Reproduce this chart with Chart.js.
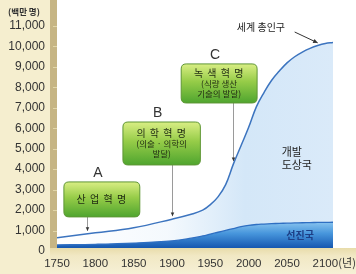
<!DOCTYPE html>
<html><head><meta charset="utf-8">
<script src="https://cdn.jsdelivr.net/npm/chart.js@4"></script>
<style>html,body{margin:0;padding:0;background:#fff}#wrap{width:356px;height:274px}</style>
</head><body><div id="wrap"><canvas id="c" width="356" height="274"></canvas></div>
<script>
// ---- data ----
const years        = [1750,1800,1850,1900,1925,1940,1950,1960,1970,1980,1990,2000,2010,2020,2030,2040,2050,2060,2070,2080,2090,2100,2110];
const worldPop     = [500, 740, 990, 1410,1650,1850,2120,2500,3100,4100,5000,5900,6900,7600,8200,8650,9050,9350,9580,9760,9900,10000,10050];
const developedPop = [150, 180, 240, 350, 480, 590, 680, 770, 860, 950, 1040,1110,1150,1170,1190,1205,1215,1225,1235,1245,1250,1255,1260];
const xTickValues  = [1750,1800,1850,1900,1950,2000,2050,2100];
const yTickValues  = [0,1000,2000,3000,4000,5000,6000,7000,8000,9000,10000,11000];
const yUnitLabel   = '(백만 명)';
const xUnitLabel   = '(년)';
const worldLabel   = '세계 총인구';
const developingLabel = ['개발','도상국'];
const developedLabel  = '선진국';
const revolutions = [
  {letter:'A', lines:['산 업 혁 명'], year:1789},
  {letter:'B', lines:['의 학 혁 명','(의술 · 의학의','발달)'], year:1900},
  {letter:'C', lines:['녹 색 혁 명','(식량 생산','기술의 발달)'], year:1980}
];
// ---- layout of callouts (data units) ----
const boxLayout = [
  {x0:1759, x1:1858, top:3230, bot:1520},
  {x0:1836, x1:1937, top:6160, bot:4060},
  {x0:1912, x1:2011, top:9000, bot:7090}
];

const LAT = "'Liberation Sans', Arial, sans-serif";
const KO = "'Noto Sans CJK KR', 'Noto Sans', sans-serif";

function interp(arr, yr){
  for(let i=0;i<years.length-1;i++){
    if(yr>=years[i] && yr<=years[i+1]){
      const t=(yr-years[i])/(years[i+1]-years[i]);
      return arr[i]+(arr[i+1]-arr[i])*t;
    }
  }
  return arr[arr.length-1];
}

function rr(ctx,x,y,w,h,r){
  ctx.beginPath();
  ctx.moveTo(x+r,y);ctx.lineTo(x+w-r,y);ctx.quadraticCurveTo(x+w,y,x+w,y+r);
  ctx.lineTo(x+w,y+h-r);ctx.quadraticCurveTo(x+w,y+h,x+w-r,y+h);
  ctx.lineTo(x+r,y+h);ctx.quadraticCurveTo(x,y+h,x,y+h-r);
  ctx.lineTo(x,y+r);ctx.quadraticCurveTo(x,y,x+r,y);ctx.closePath();
}
function arrowHead(ctx,x1,y1,x2,y2,size){
  const a=Math.atan2(y2-y1,x2-x1);
  ctx.beginPath();
  ctx.moveTo(x2,y2);
  ctx.lineTo(x2-size*Math.cos(a-0.45),y2-size*Math.sin(a-0.45));
  ctx.lineTo(x2-size*Math.cos(a+0.45),y2-size*Math.sin(a+0.45));
  ctx.closePath();ctx.fill();
}

const bgPlugin = {
  id:'bg',
  beforeDraw(chart){
    const ctx=chart.ctx, a=chart.chartArea, W=chart.width, H=chart.height;
    ctx.save();
    ctx.fillStyle='#f5eecf';ctx.fillRect(0,0,W,H);
    ctx.fillStyle='#ffffff';ctx.fillRect(a.left,0,W-a.left,a.bottom);
    ctx.fillStyle='#c6b584';ctx.fillRect(a.left-7,0,7,a.bottom+2);
    const ys=chart.scales.y;
    ctx.strokeStyle='#e2d6a8';ctx.lineWidth=1;
    yTickValues.forEach(v=>{const p=Math.round(ys.getPixelForValue(v))+3.5;ctx.beginPath();ctx.moveTo(a.left-4,p);ctx.lineTo(a.left,p);ctx.stroke();});
    const g=ctx.createLinearGradient(0,a.bottom,0,H);
    g.addColorStop(0,'#e8dcaa');g.addColorStop(0.3,'#f1e8c4');g.addColorStop(1,'#f6f0d6');
    ctx.fillStyle=g;ctx.fillRect(a.left-7,a.bottom,W,H-a.bottom);
    ctx.restore();
  }
};

const notePlugin = {
  id:'notes',
  afterDatasetsDraw(chart){
    const ctx=chart.ctx, xs=chart.scales.x, ys=chart.scales.y, a=chart.chartArea;
    ctx.save();
    revolutions.forEach((r,i)=>{
      const b=boxLayout[i];
      const x0=xs.getPixelForValue(b.x0), x1=xs.getPixelForValue(b.x1);
      const y0=ys.getPixelForValue(b.top), y1=ys.getPixelForValue(b.bot);
      const ax=Math.round(xs.getPixelForValue(r.year))+0.5;
      const ty=ys.getPixelForValue(interp(worldPop,r.year))-3;
      ctx.strokeStyle='#9a9a9a';ctx.lineWidth=1;
      ctx.beginPath();ctx.moveTo(ax,y1);ctx.lineTo(ax,ty);ctx.stroke();
      ctx.fillStyle='#333';arrowHead(ctx,ax,y1,ax,ty,4);
      const g=ctx.createLinearGradient(0,y0,0,y1);
      g.addColorStop(0,'#d9ee84');g.addColorStop(0.45,'#96cc48');g.addColorStop(1,'#4fa52f');
      rr(ctx,x0,y0,x1-x0,y1-y0,5);
      ctx.fillStyle=g;ctx.fill();
      ctx.strokeStyle='#5e9634';ctx.lineWidth=1;ctx.stroke();
      ctx.fillStyle='#1f2a12';ctx.textAlign='center';ctx.textBaseline='middle';
      const cx=(x0+x1)/2, n=r.lines.length, lh=10.5;
      const cy=(y0+y1)/2;
      r.lines.forEach((t,k)=>{
        if(k===0){ctx.font='10px '+KO;ctx.letterSpacing='1px';}
        else {ctx.font='8.5px '+KO;ctx.letterSpacing='0px';}
        ctx.fillText(t,cx,cy+(k-(n-1)/2)*lh);
      });
      ctx.letterSpacing='0px';
      ctx.fillStyle='#333';ctx.font='14px '+LAT;
      ctx.fillText(r.letter,cx-4,y0-9);
    });
    ctx.fillStyle='#222';ctx.font='10px '+KO;ctx.textAlign='center';ctx.textBaseline='middle';
    ctx.fillText(worldLabel,xs.getPixelForValue(2016),ys.getPixelForValue(10800));
    const wx1=xs.getPixelForValue(2060), wy1=ys.getPixelForValue(10560);
    const wx2=xs.getPixelForValue(2090), wy2=ys.getPixelForValue(10030);
    ctx.strokeStyle='#333';ctx.lineWidth=1;ctx.beginPath();ctx.moveTo(wx1,wy1);ctx.lineTo(wx2,wy2);ctx.stroke();
    ctx.fillStyle='#333';arrowHead(ctx,wx1,wy1,wx2,wy2,5);
    ctx.fillStyle='#222';ctx.font='11px '+KO;ctx.textAlign='left';
    ctx.fillText(developingLabel[0],xs.getPixelForValue(2043),ys.getPixelForValue(4720));
    ctx.fillText(developingLabel[1],xs.getPixelForValue(2043),ys.getPixelForValue(4080));
    ctx.fillStyle='#1d3f86';ctx.font='bold 10px '+KO;ctx.textAlign='center';
    ctx.fillText(developedLabel,xs.getPixelForValue(2067),ys.getPixelForValue(640));
    ctx.fillStyle='#333';ctx.font='bold 8.5px '+KO;ctx.textAlign='center';
    ctx.fillText(yUnitLabel,24,12);
    ctx.font='11px '+KO;ctx.textAlign='left';
    ctx.fillText(xUnitLabel,xs.getPixelForValue(2100)+13,a.bottom+15);
    ctx.restore();
  }
};

new Chart(document.getElementById('c'),{
  type:'line',
  data:{
    labels:years,
    datasets:[
      {
        label:'선진국',
        data:years.map((y,i)=>({x:y,y:developedPop[i]})),
        borderColor:'#2f6fc2',borderWidth:1.3,pointRadius:0,
        tension:0.4,
        fill:'origin',
        backgroundColor:(c)=>{
          const ch=c.chart, a=ch.chartArea; if(!a) return '#3d8ad6';
          const ys=ch.scales.y;
          const g=ch.ctx.createLinearGradient(0,ys.getPixelForValue(1300),0,ys.getPixelForValue(0));
          g.addColorStop(0,'#8cc6f0');g.addColorStop(0.45,'#4796dc');g.addColorStop(1,'#1557b0');
          return g;
        }
      },
      {
        label:'세계 총인구',
        data:years.map((y,i)=>({x:y,y:worldPop[i]})),
        borderColor:'#3c74bf',borderWidth:1.5,pointRadius:0,
        tension:0.4,
        fill:'origin',
        backgroundColor:(c)=>{
          const ch=c.chart, a=ch.chartArea; if(!a) return '#d6e8f7';
          const g=ch.ctx.createLinearGradient(a.left,0,a.right,0);
          g.addColorStop(0,'rgba(212,231,248,0)');
          g.addColorStop(0.4,'rgba(212,231,248,0.25)');
          g.addColorStop(0.68,'rgba(212,231,248,1)');
          g.addColorStop(1,'rgba(218,234,249,1)');
          return g;
        }
      }
    ]
  },
  options:{
    responsive:false,animation:false,
    layout:{padding:{top:23,right:23,left:0,bottom:0}},
    plugins:{legend:{display:false},tooltip:{enabled:false}},
    scales:{
      x:{type:'linear',min:1750,max:2110,
        afterBuildTicks:s=>{s.ticks=xTickValues.map(v=>({value:v}));},
        afterFit:s=>{s.height=26;},
        grid:{display:false,drawTicks:false},border:{display:false},
        ticks:{autoSkip:false,maxRotation:0,padding:9,color:'#333',font:{family:LAT,size:11.5},callback:v=>String(v)}
      },
      y:{min:0,max:11000,
        afterBuildTicks:s=>{s.ticks=yTickValues.map(v=>({value:v}));},
        afterFit:s=>{s.width=57;},
        grid:{display:false,drawTicks:false},border:{display:false},
        ticks:{autoSkip:false,padding:12,labelOffset:3,color:'#333',font:{family:LAT,size:12},callback:v=>v.toLocaleString('en-US')}
      }
    }
  },
  plugins:[bgPlugin,notePlugin]
});
</script></body></html>
